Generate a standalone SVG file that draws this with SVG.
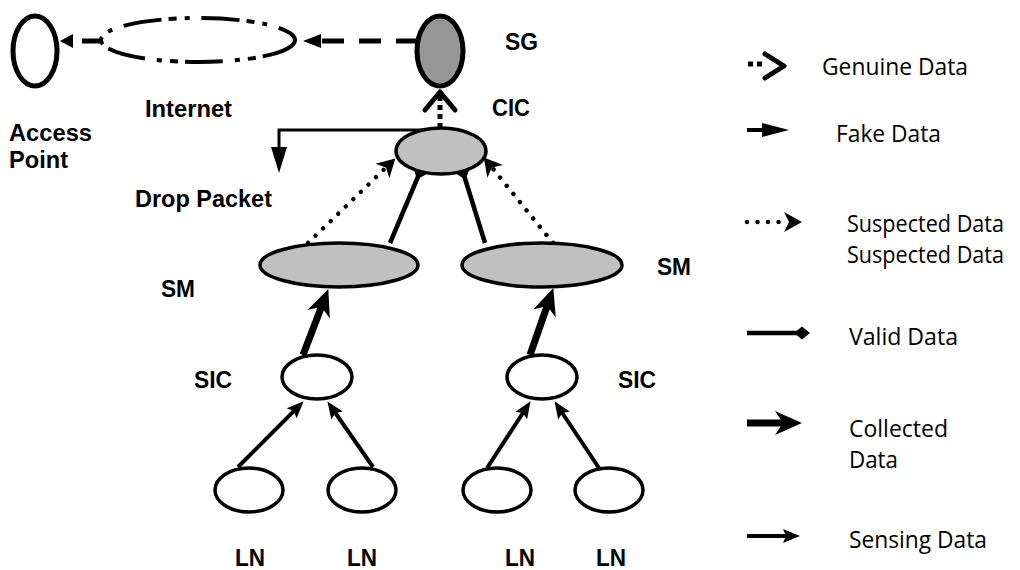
<svg xmlns="http://www.w3.org/2000/svg" width="1020" height="570" viewBox="0 0 1020 570">
<style>
.lbl{font-family:"Liberation Sans",Arial,sans-serif;font-weight:bold;font-size:23px;fill:#000}
.leg{font-family:"Open Sans","Liberation Sans",sans-serif;font-size:24px;fill:#000}
.node{stroke:#000;stroke-width:3.5}
.white{fill:#fff}
.grey{fill:#c0c0c0}
.sense{stroke:#000;stroke-width:4;fill:none;marker-end:url(#m-sense)}
.collect{stroke:#000;stroke-width:7;fill:none;marker-end:url(#m-collect)}
.valid{stroke:#000;stroke-width:4.5;fill:none;marker-end:url(#m-diamond)}
.suspect{stroke:#000;stroke-width:4.5;fill:none;stroke-dasharray:0.01 10.5;stroke-linecap:round;marker-end:url(#m-suspect)}
</style>
<defs>
<marker id="m-sense" markerUnits="userSpaceOnUse" markerWidth="17" markerHeight="14" refX="3" refY="7" orient="auto" overflow="visible"><path d="M0,0 L17,7 L0,14 L3,7 Z" fill="#000"/></marker>
<marker id="m-collect" markerUnits="userSpaceOnUse" markerWidth="27" markerHeight="24" refX="8" refY="12" orient="auto" overflow="visible"><path d="M0,0 L27,12 L0,24 L8,12 Z" fill="#000"/></marker>
<marker id="m-diamond" markerUnits="userSpaceOnUse" markerWidth="16" markerHeight="13" refX="8" refY="6.5" orient="auto" overflow="visible"><path d="M0,6.5 L8,0 L16,6.5 L8,13 Z" fill="#000"/></marker>
<marker id="m-suspect" markerUnits="userSpaceOnUse" markerWidth="18" markerHeight="20" refX="5" refY="10" orient="auto" overflow="visible"><path d="M0,0 L18,10 L0,20 L5,10 Z" fill="#000"/></marker>
</defs>
<rect width="1020" height="570" fill="#fff"/>

<g id="connectors">
  <line x1="100" y1="41" x2="82" y2="41" stroke="#000" stroke-width="5"/>
  <polygon points="60,41 73,34 73,48" fill="#000"/>
  <line x1="418" y1="41" x2="318" y2="41" stroke="#000" stroke-width="5" stroke-dasharray="22 15"/>
  <polygon points="303,41 321,34 321,48" fill="#000"/>
  <line x1="440" y1="128" x2="440" y2="94" stroke="#000" stroke-width="5" stroke-dasharray="5 4"/>
  <polyline points="425,110 440,92 455,110" fill="none" stroke="#000" stroke-width="5" stroke-linecap="round" stroke-linejoin="round"/>
  <path d="M440,130 H279 V150" fill="none" stroke="#000" stroke-width="3"/>
  <polygon points="271,147 287,147 279,173" fill="#000"/>
  <line class="valid" x1="390" y1="243" x2="420" y2="172"/>
  <line class="valid" x1="485" y1="243" x2="463" y2="172"/>
  <line class="suspect" x1="308" y1="243" x2="386" y2="167.5"/>
  <line class="suspect" x1="553" y1="243" x2="492" y2="167.5"/>
  <line class="collect" x1="303" y1="355" x2="321.5" y2="306.8"/>
  <line class="collect" x1="530" y1="355" x2="547.1" y2="306"/>
  <line class="sense" x1="238" y1="467" x2="293.8" y2="411.2"/>
  <line class="sense" x1="373" y1="467" x2="335.4" y2="413"/>
  <line class="sense" x1="487" y1="468" x2="522.9" y2="413"/>
  <line class="sense" x1="599" y1="468" x2="562.3" y2="413"/>
</g>

<g id="access-point">
  <ellipse cx="35" cy="51" rx="22" ry="35" fill="#fff" stroke="#000" stroke-width="5"/>
  <text class="lbl" x="9" y="141" textLength="83" lengthAdjust="spacingAndGlyphs">Access</text>
  <text class="lbl" x="9" y="168" textLength="59" lengthAdjust="spacingAndGlyphs">Point</text>
</g>
<g id="internet">
  <ellipse cx="198" cy="40" rx="97" ry="22" fill="none" stroke="#000" stroke-width="4" stroke-dasharray="38 7 8 8 5 12"/>
  <text class="lbl" x="145" y="117" textLength="87" lengthAdjust="spacingAndGlyphs">Internet</text>
</g>
<g id="sg">
  <ellipse cx="440" cy="51" rx="23" ry="35" fill="#969696" stroke="#000" stroke-width="5"/>
  <text class="lbl" x="505" y="50" textLength="33" lengthAdjust="spacingAndGlyphs">SG</text>
</g>
<g id="cic">
  <ellipse class="node grey" cx="441" cy="151" rx="45" ry="23"/>
  <text class="lbl" x="492" y="116" textLength="38" lengthAdjust="spacingAndGlyphs">CIC</text>
</g>
<g id="drop-packet">
  <text class="lbl" x="135" y="207" textLength="137" lengthAdjust="spacingAndGlyphs">Drop Packet</text>
</g>
<g id="sm-left">
  <ellipse class="node grey" cx="339" cy="265" rx="79" ry="22"/>
  <text class="lbl" x="161" y="297" textLength="34" lengthAdjust="spacingAndGlyphs">SM</text>
</g>
<g id="sm-right">
  <ellipse class="node grey" cx="542" cy="265" rx="80" ry="22"/>
  <text class="lbl" x="657" y="275" textLength="34" lengthAdjust="spacingAndGlyphs">SM</text>
</g>
<g id="sic-left">
  <ellipse class="node white" cx="317" cy="377" rx="35" ry="22"/>
  <text class="lbl" x="194" y="388" textLength="38" lengthAdjust="spacingAndGlyphs">SIC</text>
</g>
<g id="sic-right">
  <ellipse class="node white" cx="542" cy="377" rx="35" ry="22"/>
  <text class="lbl" x="618" y="388" textLength="38" lengthAdjust="spacingAndGlyphs">SIC</text>
</g>
<g id="ln1">
  <ellipse class="node white" cx="249" cy="490" rx="34" ry="22"/>
  <text class="lbl" x="235" y="566" textLength="30" lengthAdjust="spacingAndGlyphs">LN</text>
</g>
<g id="ln2">
  <ellipse class="node white" cx="362" cy="490" rx="34" ry="22"/>
  <text class="lbl" x="347" y="566" textLength="30" lengthAdjust="spacingAndGlyphs">LN</text>
</g>
<g id="ln3">
  <ellipse class="node white" cx="497" cy="490" rx="34" ry="22"/>
  <text class="lbl" x="505" y="566" textLength="30" lengthAdjust="spacingAndGlyphs">LN</text>
</g>
<g id="ln4">
  <ellipse class="node white" cx="609" cy="490" rx="34" ry="22"/>
  <text class="lbl" x="596" y="566" textLength="30" lengthAdjust="spacingAndGlyphs">LN</text>
</g>

<g id="legend">
  <line x1="748" y1="64" x2="762" y2="64" stroke="#000" stroke-width="5" stroke-dasharray="5 4"/>
  <polyline points="765,54 784,66 765,78" fill="none" stroke="#000" stroke-width="5" stroke-linecap="round" stroke-linejoin="round"/>
  <text class="leg" x="822" y="75" textLength="146" lengthAdjust="spacingAndGlyphs">Genuine Data</text>

  <line x1="747" y1="130" x2="765" y2="130" stroke="#000" stroke-width="4"/>
  <polygon points="762,123 789,130 762,137" fill="#000"/>
  <text class="leg" x="836" y="142" textLength="105" lengthAdjust="spacingAndGlyphs">Fake Data</text>

  <line class="suspect" x1="747" y1="222" x2="789" y2="222"/>
  <text class="leg" x="847" y="232" textLength="157" lengthAdjust="spacingAndGlyphs">Suspected Data</text>
  <text class="leg" x="847" y="263" textLength="157" lengthAdjust="spacingAndGlyphs">Suspected Data</text>

  <line class="valid" x1="747" y1="333" x2="802" y2="333" stroke-width="5"/>
  <text class="leg" x="849" y="345" textLength="109" lengthAdjust="spacingAndGlyphs">Valid Data</text>

  <line class="collect" x1="747" y1="423" x2="783" y2="423" stroke-width="9"/>
  <text class="leg" x="849" y="437" textLength="99" lengthAdjust="spacingAndGlyphs">Collected</text>
  <text class="leg" x="849" y="468" textLength="49" lengthAdjust="spacingAndGlyphs">Data</text>

  <line class="sense" x1="747" y1="536" x2="786" y2="536"/>
  <text class="leg" x="849" y="548" textLength="138" lengthAdjust="spacingAndGlyphs">Sensing Data</text>
</g>
</svg>
